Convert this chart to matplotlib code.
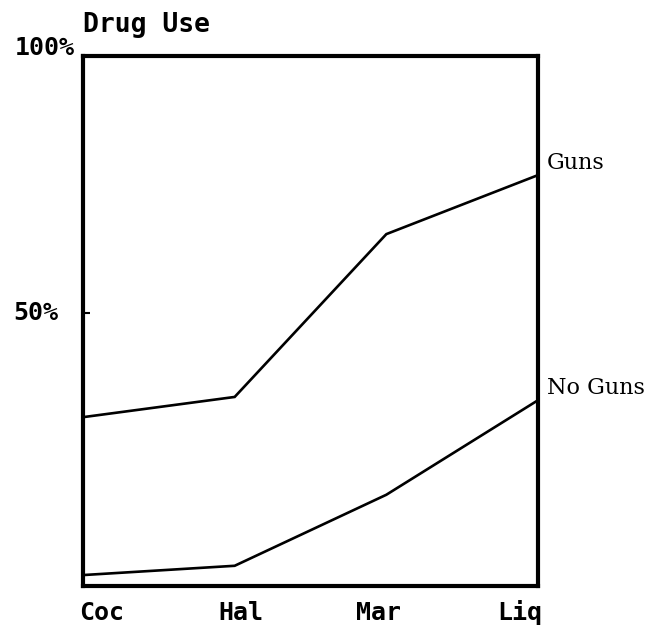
import matplotlib
matplotlib.use("Agg")
import matplotlib.pyplot as plt
import numpy as np

drugs = ["Coc", "Hal", "Mar", "Liq"]
guns = [30.9, 34.6, 64.4, 75.2]
no_guns = [2.0, 3.7, 16.7, 34.0]

mono = "DejaVu Sans Mono"
serif = "DejaVu Serif"

fig = plt.figure(figsize=(6.61, 6.29), dpi=100)
ax = fig.add_axes([83 / 661, 1 - 586 / 629, (538 - 83) / 661, (586 - 56) / 629])

x = np.arange(len(drugs))
ax.plot(x, guns, color="black", lw=1.9, solid_joinstyle="miter")
ax.plot(x, no_guns, color="black", lw=1.9, solid_joinstyle="miter")

ax.set_xlim(0, 3)
ax.set_ylim(0, 97)
for s in ax.spines.values():
    s.set_linewidth(3)
ax.set_xticks([])
ax.set_yticks([50])
ax.set_yticklabels([])
ax.tick_params(axis="y", direction="in", length=5, width=1.5)

# category labels sit a bit off the data columns, like the original
label_pos = [0.042, 0.346, 0.650, 0.960]
for name, px in zip(drugs, label_pos):
    ax.text(px, -0.05, name, transform=ax.transAxes, ha="center", va="center",
            fontsize=18, fontweight="bold", family=mono)

ax.text(-0.055, 50, "50%", transform=ax.get_yaxis_transform(), ha="right",
        va="center", fontsize=18, fontweight="bold", family=mono)
ax.text(-0.018, 1.015, "100%", transform=ax.transAxes, ha="right", va="center",
        fontsize=18, fontweight="bold", family=mono)
ax.text(0.0, 1.058, "Drug Use", transform=ax.transAxes, ha="left", va="center",
        fontsize=19, fontweight="bold", family=mono)

ax.text(1.02, 77.5, "Guns", transform=ax.get_yaxis_transform(), ha="left",
        va="center", fontsize=16, family=serif, clip_on=False)
ax.text(1.02, 36.2, "No Guns", transform=ax.get_yaxis_transform(), ha="left",
        va="center", fontsize=16, family=serif, clip_on=False)

fig.savefig("out.png", dpi=100)
